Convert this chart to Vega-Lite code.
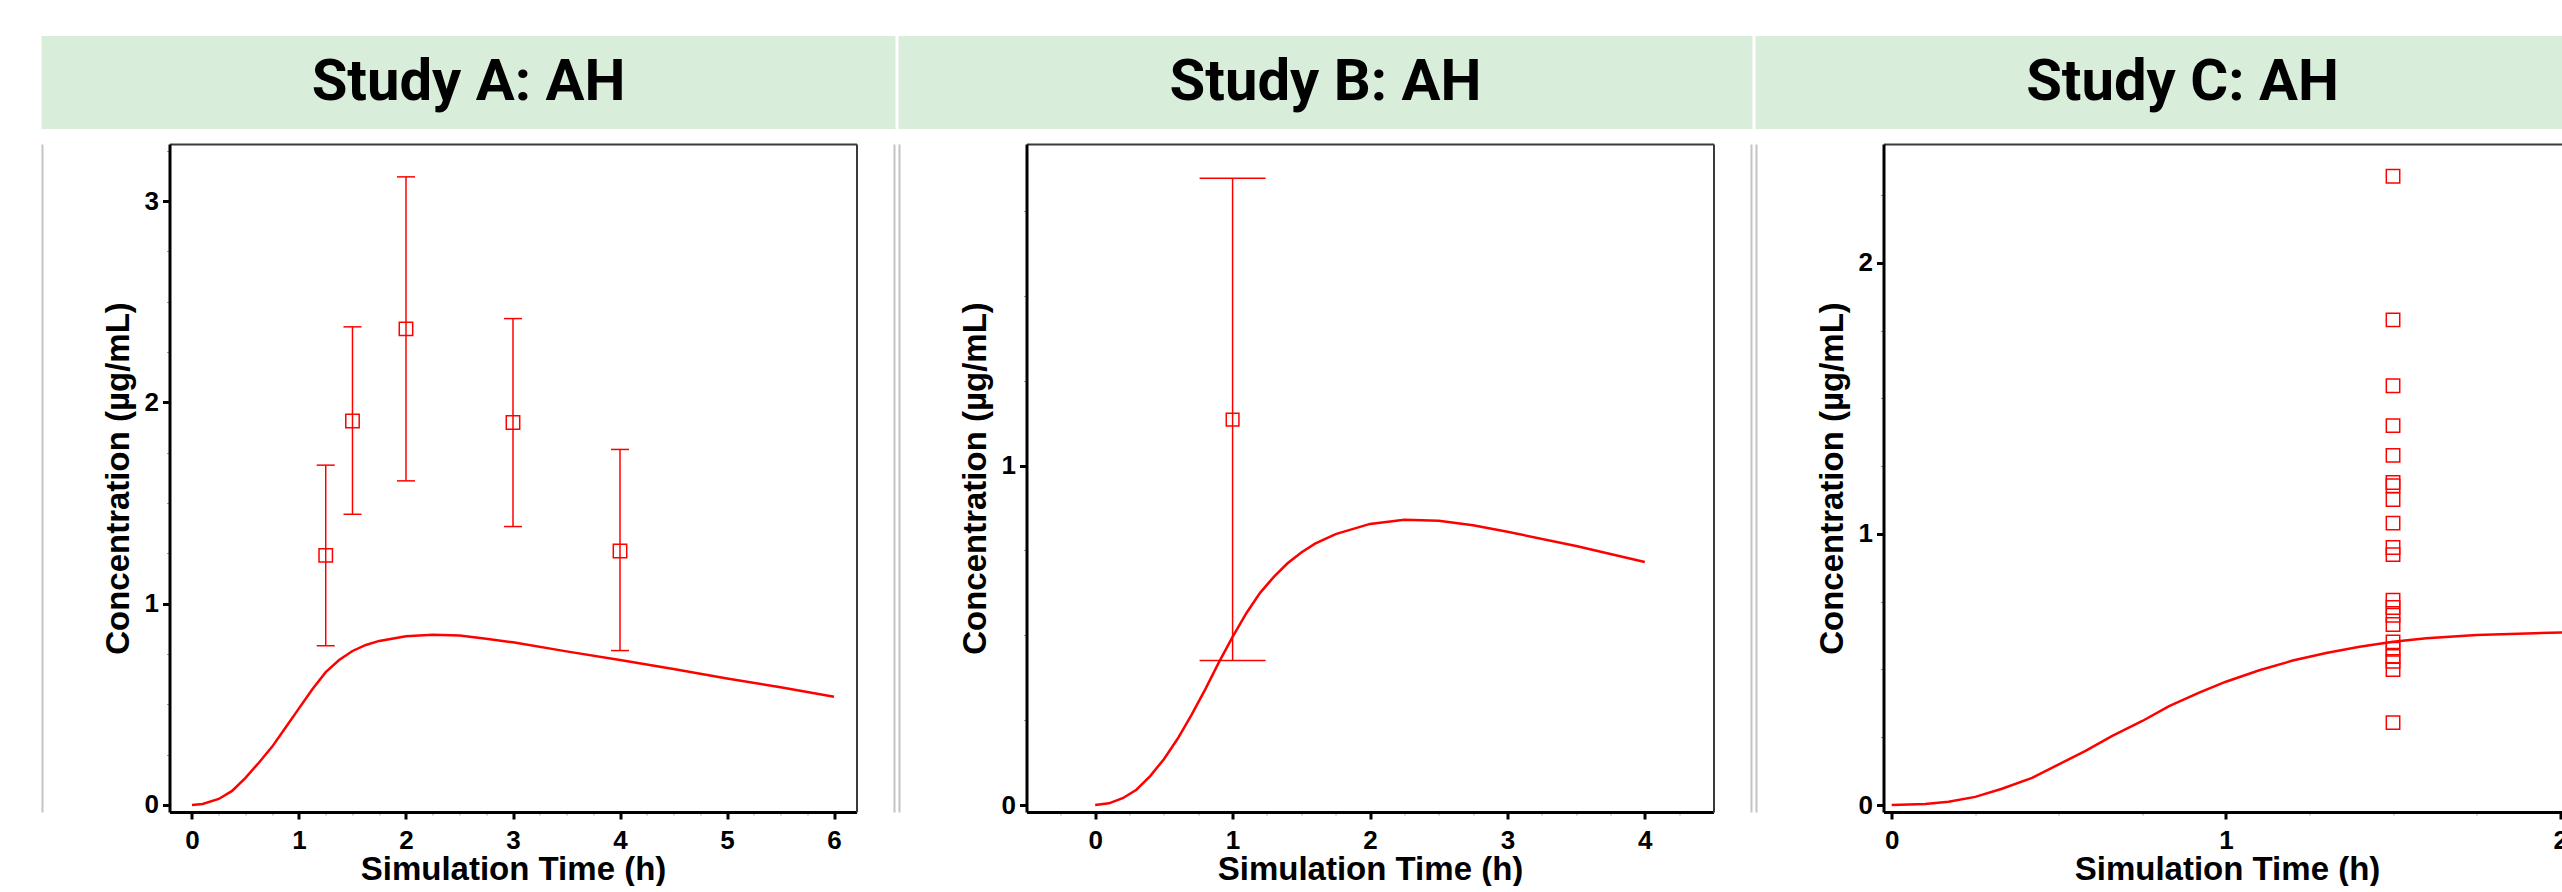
{
  "$schema": "https://vega.github.io/schema/vega-lite/v6.json",
  "background": "white",
  "padding": {"left": 41.5, "top": 36, "right": 0, "bottom": 0},
  "config": {
    "view": {"stroke": null},
    "axis": {
      "labelFont": "Liberation Sans", "labelFontWeight": "bold", "labelFontSize": 26, "labelColor": "#000",
      "titleFont": "Liberation Sans", "titleFontWeight": "bold", "titleFontSize": 33, "titleColor": "#000",
      "grid": false, "domainColor": "#000", "domainWidth": 3, "tickColor": "#000",
      "labelOverlap": false, "labelFlush": false, "labelBound": false
    }
  },
  "datasets": {
    "heads": [{"panel": "A", "label": "Study A: AH"}, {"panel": "B", "label": "Study B: AH"}, {"panel": "C", "label": "Study C: AH"}],
    "simA": [
      {"t": 0, "c": 0}, {"t": 0.1, "c": 0.005}, {"t": 0.25, "c": 0.03}, {"t": 0.375, "c": 0.07}, {"t": 0.5, "c": 0.135},
      {"t": 0.625, "c": 0.21}, {"t": 0.75, "c": 0.29}, {"t": 0.875, "c": 0.385}, {"t": 1.0, "c": 0.48}, {"t": 1.125, "c": 0.575},
      {"t": 1.25, "c": 0.66}, {"t": 1.375, "c": 0.72}, {"t": 1.5, "c": 0.765}, {"t": 1.625, "c": 0.795}, {"t": 1.75, "c": 0.815},
      {"t": 2.0, "c": 0.838}, {"t": 2.25, "c": 0.845}, {"t": 2.5, "c": 0.842}, {"t": 2.75, "c": 0.826}, {"t": 3.0, "c": 0.808},
      {"t": 3.5, "c": 0.763}, {"t": 4.0, "c": 0.72}, {"t": 4.5, "c": 0.675}, {"t": 5.0, "c": 0.628}, {"t": 5.5, "c": 0.585}, {"t": 6.0, "c": 0.538}
    ],
    "obsA": [
      {"t": 1.25, "mean": 1.24, "lo": 0.791, "hi": 1.688},
      {"t": 1.5, "mean": 1.907, "lo": 1.444, "hi": 2.375},
      {"t": 2.0, "mean": 2.365, "lo": 1.61, "hi": 3.12},
      {"t": 3.0, "mean": 1.9, "lo": 1.383, "hi": 2.416},
      {"t": 4.0, "mean": 1.262, "lo": 0.767, "hi": 1.766}
    ],
    "simB": [
      {"t": 0, "c": 0}, {"t": 0.1, "c": 0.005}, {"t": 0.2, "c": 0.02}, {"t": 0.3, "c": 0.045}, {"t": 0.4, "c": 0.085},
      {"t": 0.5, "c": 0.135}, {"t": 0.6, "c": 0.195}, {"t": 0.7, "c": 0.265}, {"t": 0.8, "c": 0.34}, {"t": 0.9, "c": 0.42},
      {"t": 1.0, "c": 0.495}, {"t": 1.1, "c": 0.565}, {"t": 1.2, "c": 0.625}, {"t": 1.3, "c": 0.672}, {"t": 1.4, "c": 0.712},
      {"t": 1.5, "c": 0.744}, {"t": 1.6, "c": 0.77}, {"t": 1.75, "c": 0.798}, {"t": 2.0, "c": 0.828}, {"t": 2.25, "c": 0.84},
      {"t": 2.5, "c": 0.837}, {"t": 2.75, "c": 0.824}, {"t": 3.0, "c": 0.805}, {"t": 3.5, "c": 0.763}, {"t": 4.0, "c": 0.716}
    ],
    "obsB": [{"t": 1.0, "mean": 1.135, "lo": 0.426, "hi": 1.846}],
    "simC": [
      {"t": 0, "c": 0}, {"t": 0.1, "c": 0.004}, {"t": 0.17, "c": 0.012}, {"t": 0.25, "c": 0.03}, {"t": 0.33, "c": 0.06},
      {"t": 0.42, "c": 0.1}, {"t": 0.5, "c": 0.15}, {"t": 0.58, "c": 0.2}, {"t": 0.66, "c": 0.255}, {"t": 0.75, "c": 0.31},
      {"t": 0.83, "c": 0.365}, {"t": 0.92, "c": 0.415}, {"t": 1.0, "c": 0.455}, {"t": 1.1, "c": 0.497}, {"t": 1.2, "c": 0.533},
      {"t": 1.3, "c": 0.561}, {"t": 1.4, "c": 0.584}, {"t": 1.5, "c": 0.602}, {"t": 1.6, "c": 0.615}, {"t": 1.75, "c": 0.627},
      {"t": 1.9, "c": 0.633}, {"t": 2.03, "c": 0.637}
    ],
    "obsC": [
      {"t": 1.5, "c": 2.32}, {"t": 1.5, "c": 1.79}, {"t": 1.5, "c": 1.547}, {"t": 1.5, "c": 1.4}, {"t": 1.5, "c": 1.29},
      {"t": 1.5, "c": 1.19}, {"t": 1.5, "c": 1.178}, {"t": 1.5, "c": 1.127}, {"t": 1.5, "c": 1.04}, {"t": 1.5, "c": 0.95},
      {"t": 1.5, "c": 0.924}, {"t": 1.5, "c": 0.756}, {"t": 1.5, "c": 0.729}, {"t": 1.5, "c": 0.7}, {"t": 1.5, "c": 0.666},
      {"t": 1.5, "c": 0.602}, {"t": 1.5, "c": 0.575}, {"t": 1.5, "c": 0.548}, {"t": 1.5, "c": 0.53}, {"t": 1.5, "c": 0.5},
      {"t": 1.5, "c": 0.304}
    ]
  },
  "columns": 3,
  "spacing": {"row": 8, "column": 3},
  "concat": [
    {
      "width": 854, "height": 93,
      "view": {"fill": "#d9eddb", "stroke": null},
      "data": {"name": "heads"},
      "transform": [{"filter": "datum.panel === 'A'"}],
      "mark": {"type": "text", "font": "Roboto", "fontWeight": "bold", "fontSize": 58, "baseline": "middle", "align": "center", "color": "#000"},
      "encoding": {"text": {"field": "label"}}
    },
    {
      "width": 854, "height": 93,
      "view": {"fill": "#d9eddb", "stroke": null},
      "data": {"name": "heads"},
      "transform": [{"filter": "datum.panel === 'B'"}],
      "mark": {"type": "text", "font": "Roboto", "fontWeight": "bold", "fontSize": 58, "baseline": "middle", "align": "center", "color": "#000"},
      "encoding": {"text": {"field": "label"}}
    },
    {
      "width": 854, "height": 93,
      "view": {"fill": "#d9eddb", "stroke": null},
      "data": {"name": "heads"},
      "transform": [{"filter": "datum.panel === 'C'"}],
      "mark": {"type": "text", "font": "Roboto", "fontWeight": "bold", "fontSize": 58, "baseline": "middle", "align": "center", "color": "#000"},
      "encoding": {"text": {"field": "label"}}
    },
    {
      "width": 854, "height": 668,
      "resolve": {"axis": {"x": "independent", "y": "independent"}},
      "layer": [
        {
          "data": {"name": "simA"},
          "mark": {"type": "line", "color": "#ff0000", "strokeWidth": 2.5},
          "encoding": {
            "x": {"field": "t", "type": "quantitative", "scale": {"domain": [-0.21, 6.21], "range": [128, 815], "nice": false, "zero": false},
              "axis": {"orient": "bottom", "title": "Simulation Time (h)", "values": [0,0.25,0.5,0.75,1,1.25,1.5,1.75,2,2.25,2.5,2.75,3,3.25,3.5,3.75,4,4.25,4.5,4.75,5,5.25,5.5,5.75,6],
                "labelExpr": "datum.value % 1 === 0 ? '' + datum.value : ''",
                "tickSize": {"condition": {"test": "datum.value % 1 === 0", "value": 7}, "value": 3},
                "tickWidth": {"condition": {"test": "datum.value % 1 === 0", "value": 3}, "value": 1},
                "tickColor": {"condition": {"test": "datum.value % 1 === 0", "value": "#000"}, "value": "#999"},
                "labelPadding": 8, "titlePadding": 0}},
            "y": {"field": "c", "type": "quantitative", "scale": {"domain": [-0.0348, 3.2832], "nice": false, "zero": false},
              "axis": {"orient": "left", "offset": -128, "title": "Concentration (µg/mL)", "values": [0,0.25,0.5,0.75,1,1.25,1.5,1.75,2,2.25,2.5,2.75,3,3.25],
                "labelExpr": "datum.value % 1 === 0 ? '' + datum.value : ''",
                "tickSize": {"condition": {"test": "datum.value % 1 === 0", "value": 7}, "value": 3},
                "tickWidth": {"condition": {"test": "datum.value % 1 === 0", "value": 3}, "value": 1},
                "tickColor": {"condition": {"test": "datum.value % 1 === 0", "value": "#000"}, "value": "#999"},
                "labelPadding": 4, "titlePadding": 9}}
          }
        },
        {
          "data": {"name": "obsA"},
          "mark": {"type": "point", "shape": "square", "filled": false, "size": 180, "strokeWidth": 1.5, "color": "#ff0000", "opacity": 1},
          "encoding": {
            "x": {"field": "t", "type": "quantitative", "scale": {"domain": [-0.21, 6.21], "range": [128, 815], "nice": false, "zero": false},
              "axis": {"orient": "top", "domainColor": "#3a3a3a", "domainWidth": 2, "ticks": false, "labels": false, "title": null}},
            "y": {"field": "mean", "type": "quantitative", "scale": {"domain": [-0.0348, 3.2832], "nice": false, "zero": false},
              "axis": {"orient": "left", "offset": -0.5, "domainColor": "#c4c4c4", "domainWidth": 2, "ticks": false, "labels": false, "title": null}}
          }
        },
        {
          "data": {"name": "obsA"},
          "mark": {"type": "rule", "color": "#ff0000", "strokeWidth": 1.5},
          "encoding": {
            "x": {"field": "t", "type": "quantitative", "scale": {"domain": [-0.21, 6.21], "range": [128, 815], "nice": false, "zero": false}, "axis": null},
            "y": {"field": "lo", "type": "quantitative", "scale": {"domain": [-0.0348, 3.2832], "nice": false, "zero": false},
              "axis": {"orient": "right", "offset": -1.5, "domainColor": "#c4c4c4", "domainWidth": 2, "ticks": false, "labels": false, "title": null}},
            "y2": {"field": "hi"}
          }
        },
        {
          "data": {"name": "obsA"},
          "mark": {"type": "tick", "orient": "horizontal", "size": 18, "thickness": 1.5, "color": "#ff0000", "opacity": 1},
          "encoding": {
            "x": {"field": "t", "type": "quantitative", "scale": {"domain": [-0.21, 6.21], "range": [128, 815], "nice": false, "zero": false}, "axis": null},
            "y": {"field": "lo", "type": "quantitative", "scale": {"domain": [-0.0348, 3.2832], "nice": false, "zero": false},
              "axis": {"orient": "right", "offset": -39, "domainColor": "#3a3a3a", "domainWidth": 2, "ticks": false, "labels": false, "title": null}}
          }
        },
        {
          "data": {"name": "obsA"},
          "mark": {"type": "tick", "orient": "horizontal", "size": 18, "thickness": 1.5, "color": "#ff0000", "opacity": 1},
          "encoding": {
            "x": {"field": "t", "type": "quantitative", "scale": {"domain": [-0.21, 6.21], "range": [128, 815], "nice": false, "zero": false}, "axis": null},
            "y": {"field": "hi", "type": "quantitative", "scale": {"domain": [-0.0348, 3.2832], "nice": false, "zero": false}, "axis": null}
          }
        }
      ]
    },
    {
      "width": 854, "height": 668,
      "resolve": {"axis": {"x": "independent", "y": "independent"}},
      "layer": [
        {
          "data": {"name": "simB"},
          "mark": {"type": "line", "color": "#ff0000", "strokeWidth": 2.5},
          "encoding": {
            "x": {"field": "t", "type": "quantitative", "scale": {"domain": [-0.5, 4.5], "range": [128, 815], "nice": false, "zero": false},
              "axis": {"orient": "bottom", "title": "Simulation Time (h)", "values": [-0.25,0,0.25,0.5,0.75,1,1.25,1.5,1.75,2,2.25,2.5,2.75,3,3.25,3.5,3.75,4,4.25],
                "labelExpr": "datum.value % 1 === 0 ? '' + datum.value : ''",
                "tickSize": {"condition": {"test": "datum.value % 1 === 0", "value": 7}, "value": 3},
                "tickWidth": {"condition": {"test": "datum.value % 1 === 0", "value": 3}, "value": 1},
                "tickColor": {"condition": {"test": "datum.value % 1 === 0", "value": "#000"}, "value": "#999"},
                "labelPadding": 8, "titlePadding": 0}},
            "y": {"field": "c", "type": "quantitative", "scale": {"domain": [-0.0206, 1.947], "nice": false, "zero": false},
              "axis": {"orient": "left", "offset": -128, "title": "Concentration (µg/mL)", "values": [0,0.25,0.5,0.75,1,1.25,1.5,1.75],
                "labelExpr": "datum.value % 1 === 0 ? '' + datum.value : ''",
                "tickSize": {"condition": {"test": "datum.value % 1 === 0", "value": 7}, "value": 3},
                "tickWidth": {"condition": {"test": "datum.value % 1 === 0", "value": 3}, "value": 1},
                "tickColor": {"condition": {"test": "datum.value % 1 === 0", "value": "#000"}, "value": "#999"},
                "labelPadding": 4, "titlePadding": 9}}
          }
        },
        {
          "data": {"name": "obsB"},
          "mark": {"type": "point", "shape": "square", "filled": false, "size": 160, "strokeWidth": 1.5, "color": "#ff0000", "opacity": 1},
          "encoding": {
            "x": {"field": "t", "type": "quantitative", "scale": {"domain": [-0.5, 4.5], "range": [128, 815], "nice": false, "zero": false},
              "axis": {"orient": "top", "domainColor": "#3a3a3a", "domainWidth": 2, "ticks": false, "labels": false, "title": null}},
            "y": {"field": "mean", "type": "quantitative", "scale": {"domain": [-0.0206, 1.947], "nice": false, "zero": false},
              "axis": {"orient": "left", "offset": -0.5, "domainColor": "#c4c4c4", "domainWidth": 2, "ticks": false, "labels": false, "title": null}}
          }
        },
        {
          "data": {"name": "obsB"},
          "mark": {"type": "rule", "color": "#ff0000", "strokeWidth": 1.5},
          "encoding": {
            "x": {"field": "t", "type": "quantitative", "scale": {"domain": [-0.5, 4.5], "range": [128, 815], "nice": false, "zero": false}, "axis": null},
            "y": {"field": "lo", "type": "quantitative", "scale": {"domain": [-0.0206, 1.947], "nice": false, "zero": false},
              "axis": {"orient": "right", "offset": -1.5, "domainColor": "#c4c4c4", "domainWidth": 2, "ticks": false, "labels": false, "title": null}},
            "y2": {"field": "hi"}
          }
        },
        {
          "data": {"name": "obsB"},
          "mark": {"type": "tick", "orient": "horizontal", "size": 66, "thickness": 1.5, "color": "#ff0000", "opacity": 1},
          "encoding": {
            "x": {"field": "t", "type": "quantitative", "scale": {"domain": [-0.5, 4.5], "range": [128, 815], "nice": false, "zero": false}, "axis": null},
            "y": {"field": "lo", "type": "quantitative", "scale": {"domain": [-0.0206, 1.947], "nice": false, "zero": false},
              "axis": {"orient": "right", "offset": -39, "domainColor": "#3a3a3a", "domainWidth": 2, "ticks": false, "labels": false, "title": null}}
          }
        },
        {
          "data": {"name": "obsB"},
          "mark": {"type": "tick", "orient": "horizontal", "size": 66, "thickness": 1.5, "color": "#ff0000", "opacity": 1},
          "encoding": {
            "x": {"field": "t", "type": "quantitative", "scale": {"domain": [-0.5, 4.5], "range": [128, 815], "nice": false, "zero": false}, "axis": null},
            "y": {"field": "hi", "type": "quantitative", "scale": {"domain": [-0.0206, 1.947], "nice": false, "zero": false}, "axis": null}
          }
        }
      ]
    },
    {
      "width": 854, "height": 668,
      "resolve": {"axis": {"x": "independent", "y": "independent"}},
      "layer": [
        {
          "data": {"name": "simC"},
          "mark": {"type": "line", "color": "#ff0000", "strokeWidth": 2.5},
          "encoding": {
            "x": {"field": "t", "type": "quantitative", "scale": {"domain": [-0.0245, 2.031], "range": [128, 815], "nice": false, "zero": false},
              "axis": {"orient": "bottom", "title": "Simulation Time (h)", "values": [0,0.25,0.5,0.75,1,1.25,1.5,1.75,2],
                "labelExpr": "datum.value % 1 === 0 ? '' + datum.value : ''",
                "tickSize": {"condition": {"test": "datum.value % 1 === 0", "value": 7}, "value": 3},
                "tickWidth": {"condition": {"test": "datum.value % 1 === 0", "value": 3}, "value": 1},
                "tickColor": {"condition": {"test": "datum.value % 1 === 0", "value": "#000"}, "value": "#999"},
                "labelPadding": 8, "titlePadding": 0}},
            "y": {"field": "c", "type": "quantitative", "scale": {"domain": [-0.0258, 2.439], "nice": false, "zero": false},
              "axis": {"orient": "left", "offset": -128, "title": "Concentration (µg/mL)", "values": [0,0.25,0.5,0.75,1,1.25,1.5,1.75,2,2.25],
                "labelExpr": "datum.value % 1 === 0 ? '' + datum.value : ''",
                "tickSize": {"condition": {"test": "datum.value % 1 === 0", "value": 7}, "value": 3},
                "tickWidth": {"condition": {"test": "datum.value % 1 === 0", "value": 3}, "value": 1},
                "tickColor": {"condition": {"test": "datum.value % 1 === 0", "value": "#000"}, "value": "#999"},
                "labelPadding": 4, "titlePadding": 9}}
          }
        },
        {
          "data": {"name": "obsC"},
          "mark": {"type": "point", "shape": "square", "filled": false, "size": 180, "strokeWidth": 1.5, "color": "#ff0000", "opacity": 1},
          "encoding": {
            "x": {"field": "t", "type": "quantitative", "scale": {"domain": [-0.0245, 2.031], "range": [128, 815], "nice": false, "zero": false},
              "axis": {"orient": "top", "domainColor": "#3a3a3a", "domainWidth": 2, "ticks": false, "labels": false, "title": null}},
            "y": {"field": "c", "type": "quantitative", "scale": {"domain": [-0.0258, 2.439], "nice": false, "zero": false},
              "axis": {"orient": "left", "offset": -0.5, "domainColor": "#c4c4c4", "domainWidth": 2, "ticks": false, "labels": false, "title": null}}
          }
        }
      ]
    }
  ]
}
